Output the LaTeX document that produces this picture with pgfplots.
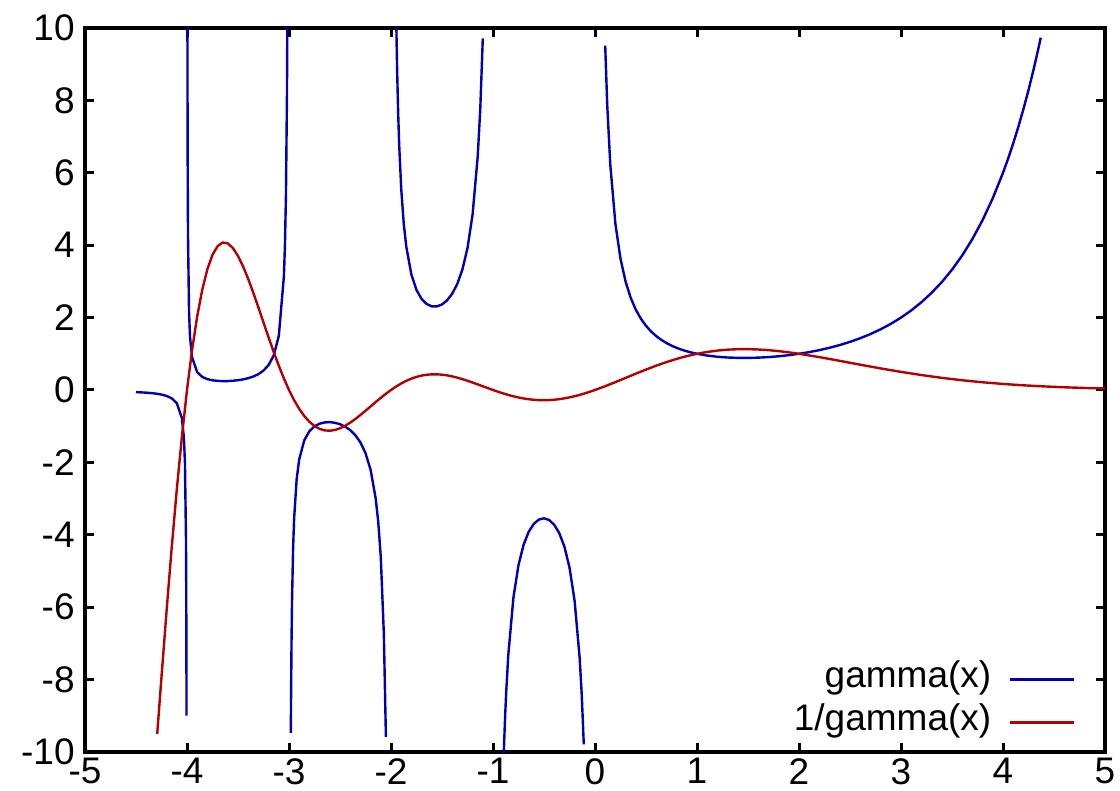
\documentclass[border=0pt]{standalone}
\usepackage{fontspec}
\setmainfont{Liberation Sans}
\usepackage{pgfplots}
\pgfplotsset{compat=1.18}
\definecolor{gblue}{RGB}{0,0,180}
\definecolor{gred}{RGB}{180,0,0}
\begin{document}
\fontsize{18.5}{22}\selectfont
\begin{tikzpicture}
\begin{axis}[
  scale only axis, width=510pt, height=362pt,
  xmin=-5, xmax=5, ymin=-10, ymax=10,
  xtick={-5,-4,...,5}, ytick={-10,-8,...,10},
  axis line style={line width=2pt},
  tick style={line width=1.5pt, black},
  major tick length=4.5pt,
  tick align=inside,
  /pgf/number format/assume math mode=true,
  ticklabel style={font=\fontsize{18.5}{22}\selectfont},
  xticklabel style={inner sep=3pt},
  yticklabel style={inner sep=5pt},
  every axis plot/.append style={line width=1.2pt},
  legend cell align=right,
  legend plot pos=right,
  legend image code/.code={\draw[#1] (0pt,-0.5pt) -- (32pt,-0.5pt);},
  legend style={draw=none, fill=none, inner sep=0pt,
    at={(rel axis cs:0.9716,0)}, anchor=south east, yshift=6.5pt,
    font=\fontsize{18.5}{22}\selectfont,
    row sep=4.5pt,
    nodes={inner sep=0pt, text height=13pt, text depth=4pt},
    /tikz/every odd column/.append style={column sep=9pt}},
]
% gamma(x), one piece between each pair of poles
\addplot[gblue] coordinates {
(-4.5,-0.0600) (-4.45,-0.0658) (-4.4,-0.0741) (-4.35,-0.0856) (-4.3,-0.1020)
(-4.25,-0.1262) (-4.2,-0.1641) (-4.15,-0.2295) (-4.1,-0.3640) (-4.05,-0.7759)
(-4.03,-1.329) (-4.02,-2.023) (-4.01,-4.105) (-4.0075,-5.493) (-4.005,-8.27)
(-4.0046,-8.995)};
\addlegendentry{gamma(x)}
\addplot[gblue, forget plot] coordinates {
(-3.996,10.48) (-3.995,8.396) (-3.993,6.015) (-3.99,4.231) (-3.98,2.148)
(-3.97,1.455) (-3.95,0.902) (-3.9,0.4919) (-3.85,0.3605) (-3.8,0.2996)
(-3.75,0.2679) (-3.7,0.2516) (-3.65,0.2455) (-3.6,0.2469) (-3.55,0.2550)
(-3.5,0.2701) (-3.45,0.2930) (-3.4,0.3259) (-3.35,0.3723) (-3.3,0.4385)
(-3.25,0.5362) (-3.2,0.6891) (-3.15,0.9523) (-3.1,1.4923) (-3.05,3.1423)
(-3.04,3.972) (-3.03,5.357) (-3.02,8.133) (-3.015,10.91)};
\addplot[gblue, forget plot] coordinates {
(-2.982,-9.475) (-2.98,-8.550) (-2.975,-6.886) (-2.97,-5.777) (-2.96,-4.392)
(-2.95,-3.5627) (-2.925,-2.463) (-2.9,-1.9185) (-2.85,-1.3880) (-2.8,-1.1386)
(-2.75,-1.0045) (-2.7,-0.9311) (-2.65,-0.8959) (-2.6,-0.8887) (-2.55,-0.9053)
(-2.5,-0.9453) (-2.45,-1.0109) (-2.4,-1.1080) (-2.35,-1.2471) (-2.3,-1.4471)
(-2.25,-1.7428) (-2.2,-2.2050) (-2.15,-2.9996) (-2.125,-3.645) (-2.1,-4.6261)
(-2.07,-6.745) (-2.05,-9.584)};
\addplot[gblue, forget plot] coordinates {
(-1.95,10.51) (-1.945,9.606) (-1.94,8.854) (-1.93,7.675) (-1.92,6.792)
(-1.9,5.5637) (-1.875,4.5924) (-1.85,3.9557) (-1.8,3.1881) (-1.75,2.7623)
(-1.7,2.5139) (-1.65,2.3741) (-1.6,2.3106) (-1.55,2.3086) (-1.5,2.3633)
(-1.45,2.4768) (-1.4,2.6593) (-1.35,2.9308) (-1.3,3.3284) (-1.25,3.9214)
(-1.2,4.8509) (-1.15,6.4492) (-1.125,7.7466) (-1.1,9.7148)};
\addplot[gblue, forget plot] coordinates {
(-0.895,-10.10) (-0.89,-9.678) (-0.88,-8.936) (-0.87,-8.314) (-0.85,-7.3180)
(-0.8,-5.7386) (-0.75,-4.8341) (-0.7,-4.2737) (-0.65,-3.9172) (-0.6,-3.6969)
(-0.55,-3.5784) (-0.5,-3.5449) (-0.45,-3.5914) (-0.4,-3.7230) (-0.35,-3.9566)
(-0.3,-4.3269) (-0.25,-4.9017) (-0.2,-5.8211) (-0.15,-7.4166) (-0.13,-8.417)
(-0.11,-9.790)};
\addplot[gblue, forget plot] coordinates {
(0.1,9.5135) (0.12,7.863) (0.15,6.2203) (0.2,4.5908) (0.25,3.6256)
(0.3,2.9916) (0.35,2.5461) (0.4,2.2182) (0.45,1.9681) (0.5,1.7725)
(0.55,1.6161) (0.6,1.4892) (0.65,1.3848) (0.7,1.2981) (0.75,1.2254)
(0.8,1.1642) (0.85,1.1125) (0.9,1.0686) (0.95,1.0315) (1,1)
(1.1,0.9514) (1.2,0.9182) (1.3,0.8975) (1.4,0.8873) (1.5,0.8862)
(1.6,0.8935) (1.7,0.9086) (1.8,0.9314) (1.9,0.9618) (2,1)
(2.1,1.0465) (2.2,1.1018) (2.3,1.1667) (2.4,1.2422) (2.5,1.3293)
(2.6,1.4296) (2.7,1.5447) (2.8,1.6765) (2.9,1.8274) (3,2)
(3.1,2.1976) (3.2,2.4240) (3.3,2.6834) (3.4,2.9812) (3.5,3.3234)
(3.6,3.7170) (3.7,4.1707) (3.8,4.6941) (3.9,5.2993) (4,6)
(4.05,6.3912) (4.1,6.8127) (4.15,7.2669) (4.2,7.7567) (4.25,8.2851)
(4.3,8.8553) (4.35,9.4710) (4.37,9.7318)};
% 1/gamma(x)
\addplot[gred] coordinates {
(-4.292,-9.50) (-4.25,-7.925) (-4.2,-6.095) (-4.15,-4.358) (-4.1,-2.748)
(-4.05,-1.289) (-4,0) (-3.95,1.109) (-3.9,2.033) (-3.85,2.774)
(-3.8,3.337) (-3.75,3.733) (-3.7,3.974) (-3.65,4.074) (-3.6,4.051)
(-3.55,3.921) (-3.5,3.703) (-3.45,3.413) (-3.4,3.069) (-3.35,2.686)
(-3.3,2.280) (-3.25,1.865) (-3.2,1.451) (-3.15,1.050) (-3.1,0.670)
(-3.05,0.318) (-3,0) (-2.95,-0.281) (-2.9,-0.521) (-2.85,-0.720)
(-2.8,-0.878) (-2.75,-0.996) (-2.7,-1.074) (-2.65,-1.116) (-2.6,-1.125)
(-2.55,-1.105) (-2.5,-1.058) (-2.45,-0.989) (-2.4,-0.903) (-2.35,-0.802)
(-2.3,-0.691) (-2.25,-0.574) (-2.2,-0.454) (-2.15,-0.333) (-2.1,-0.216)
(-2.05,-0.104) (-2,0) (-1.95,0.095) (-1.9,0.180) (-1.85,0.253)
(-1.8,0.314) (-1.75,0.362) (-1.7,0.398) (-1.65,0.421) (-1.6,0.433)
(-1.55,0.433) (-1.5,0.423) (-1.45,0.404) (-1.4,0.376) (-1.35,0.341)
(-1.3,0.300) (-1.25,0.255) (-1.2,0.206) (-1.15,0.155) (-1.1,0.103)
(-1.05,0.051) (-1,0) (-0.95,-0.049) (-0.9,-0.095) (-0.85,-0.137)
(-0.8,-0.174) (-0.75,-0.207) (-0.7,-0.234) (-0.65,-0.255) (-0.6,-0.271)
(-0.55,-0.279) (-0.5,-0.282) (-0.45,-0.278) (-0.4,-0.269) (-0.35,-0.253)
(-0.3,-0.231) (-0.25,-0.204) (-0.2,-0.172) (-0.15,-0.135) (-0.1,-0.094)
(-0.05,-0.048) (0,0) (0.1,0.105) (0.2,0.218) (0.3,0.334)
(0.4,0.451) (0.5,0.564) (0.6,0.672) (0.7,0.770) (0.8,0.859)
(0.9,0.936) (1,1) (1.1,1.051) (1.2,1.089) (1.3,1.114)
(1.4,1.127) (1.5,1.128) (1.6,1.119) (1.7,1.101) (1.8,1.074)
(1.9,1.040) (2,1) (2.2,0.908) (2.4,0.805) (2.6,0.699)
(2.8,0.596) (3,0.5) (3.2,0.413) (3.4,0.335) (3.6,0.269)
(3.8,0.213) (4,0.167) (4.2,0.129) (4.4,0.099) (4.6,0.075)
(4.8,0.056) (5,0.042)};
\addlegendentry{1/gamma(x)}
\end{axis}
\pgfresetboundingbox
\path ([xshift=-42.5pt,yshift=-19pt]current axis.south west)
  rectangle ([xshift=7.5pt,yshift=14pt]current axis.north east);
\end{tikzpicture}
\end{document}
